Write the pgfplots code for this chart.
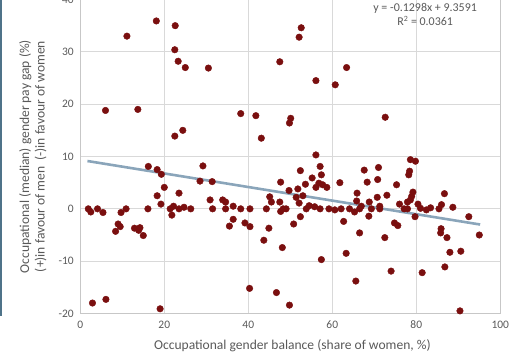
\documentclass[border=0pt]{standalone}
\usepackage{fontspec}
\setmainfont{Carlito}
\usepackage{pgfplots}
\pgfplotsset{compat=1.18}
\definecolor{dotred}{HTML}{7A0F0F}
\definecolor{trend}{HTML}{8AA5BA}
\definecolor{gridc}{HTML}{D9D9D9}
\definecolor{txt}{HTML}{595959}
\definecolor{barc}{HTML}{4F7389}
\begin{document}
\begin{tikzpicture}
\begin{axis}[
  scale only axis, width=420bp, height=314bp,
  xmin=0, xmax=100, ymin=-20, ymax=40,
  xtick={0,20,...,100}, ytick={-20,-10,...,40},
  grid=major, major grid style={gridc, line width=0.9bp},
  axis line style={gridc!80!gray, line width=0.9bp},
  tick style={draw=none},
  /pgf/number format/assume math mode=true,
  tick label style={font=\fontsize{11.5}{13}\selectfont, text=txt},
  xticklabel style={yshift=-4bp},
  yticklabel style={xshift=-3bp},
  xlabel={Occupational gender balance (share of women, \%)},
  ylabel={Occupational (median) gender pay gap (\%)\\(+)in favour of men\ \ (-)in favour of women},
  label style={font=\fontsize{13.6}{15.5}\selectfont, text=txt},
  xlabel style={at={(axis description cs:0.505,-0.101)}, anchor=center},
  ylabel style={align=center, at={(axis description cs:-0.113,0.5)}, anchor=center},
  clip=false,
]
\addplot[only marks, mark=*, mark size=3.3bp, mark options={fill=dotred, draw=dotred}] coordinates {
(1.9,0) (2.5,-0.6) (4.1,0) (5.4,-0.7) (9.7,-0.7) (10.9,0) (9.0,-2.9) (9.5,-3.4) (8.4,-4.3)
(12.9,-3.7) (14.2,-3.6) (13.9,-4.1) (15.0,-5.1) (16.1,0) (18.3,2.5) (19.2,0.9) (20.0,4.1)
(21.8,-1.2) (21.4,0) (22.2,0.5) (23.5,3.0) (23.5,0) (24.7,0.3) (26.3,0) (16.2,8.1) (18.3,7.5)
(19.3,6.6) (28.5,5.3) (31.4,5.2) (29.2,8.2) (30.9,1.7) (31.5,0) (33.9,1.7) (34.6,1.3) (34.6,0)
(36.4,0.5) (36.4,-2.0) (35.5,-3.3) (38.2,0) (39.2,-2.7) (40.4,-3.4) (40.4,0) (44.3,0) (44.9,-3.7)
(43.7,-6.0) (48.1,-7.4) (40.3,-15.2) (46.7,-16.0) (49.8,-18.4) (45.1,2.3) (45.5,1.3) (47.7,5.1)
(47.5,1.3) (49.7,3.5) (47.7,-0.5) (48.3,0) (49.0,0) (2.9,-18.0) (6.1,-17.3) (19.0,-19.1)
(6.0,18.8) (13.7,19.0) (11.1,33.0) (18.1,35.9) (22.6,35.0) (22.5,30.4) (23.3,28.2) (25.0,27.0)
(30.5,26.9) (22.5,13.9) (24.4,15.0) (38.2,18.2) (41.8,17.8) (43.1,13.5) (47.5,28.1) (50.1,17.3)
(49.8,16.4) (52.6,34.6) (52.1,32.8) (56.1,24.5) (63.4,27.0) (60.7,23.7) (72.6,17.5) (56.1,10.3)
(52.4,7.3) (57.1,8.1) (57.4,6.5) (55.2,5.9) (53.6,4.7) (56.8,4.9) (56.1,4.1) (57.7,4.6) (58.7,4.1)
(51.8,3.8) (51.4,2.2) (53.0,2.5) (52.1,1.1) (53.8,0) (54.5,0.6) (55.8,0.4) (57.1,0) (59.2,0)
(60.6,-0.2) (62.1,0) (64.1,0) (65.3,-0.6) (66.5,0) (65.9,3.0) (65.8,1.5) (66.9,0.5) (61.8,5.0)
(67.6,7.4) (68.3,5.1) (71.0,7.9) (70.8,5.6) (73.0,2.6) (70.7,2.2) (68.8,1.3) (71.3,0.5) (71.3,0)
(69.3,0) (68.7,-1.4) (62.7,-2.4) (50.8,-2.9) (52.4,-1.5) (66.5,-4.6) (72.5,-5.5) (74.8,-2.7)
(75.6,-3.2) (63.3,-8.5) (57.4,-9.7) (74.0,-11.9) (65.6,-13.8) (75.3,4.6) (78.6,9.4) (79.8,9.1)
(78.4,7.2) (78.2,6.5) (79.2,3.2) (78.9,2.4) (78.6,1.7) (77.9,1.3) (76.0,0.9) (77.1,0) (77.9,0)
(80.4,0.9) (81.0,0.1) (79.7,-1.5) (82.4,-0.2) (83.4,0.2) (85.4,0) (86.0,0.8) (86.7,2.9) (88.7,0.3)
(92.5,-1.5) (95.0,-5.0) (85.9,-3.8) (85.8,-4.6) (87.3,-5.5) (88.0,-8.3) (90.6,-8.1) (81.4,-12.2)
(86.8,-11.1) (90.4,-19.5)
};
\addplot[trend, line width=2.6bp] coordinates {(1.7,9.138) (95.2,-2.998)};
\node[txt, font=\fontsize{12}{14}\selectfont, align=center] at (axis cs:82.1,37.1)
  {y = -0.1298x + 9.3591\\R\textsuperscript{2} = 0.0361};
\end{axis}
\pgfresetboundingbox
\useasboundingbox (-80.3bp,-48.7bp) rectangle (439.7bp,313.5bp);
\fill[barc] (-80.3bp,-2bp) rectangle (-78.3bp,313.5bp);
\end{tikzpicture}
\end{document}
